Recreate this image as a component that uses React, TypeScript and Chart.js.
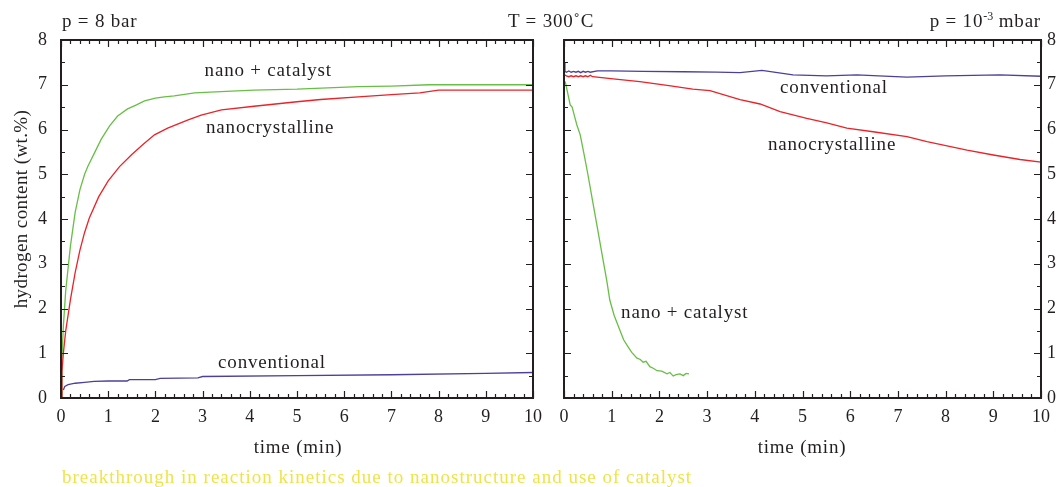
import React, { useEffect, useRef } from "react";
import { Chart, registerables } from "chart.js";

Chart.register(...registerables);

const FONT = "'Liberation Serif', 'Times New Roman', serif";
const INK = "#231f20";
const GREEN = "#68bf45";
const RED = "#ec2227";
const BLUE = "#4b409c";
const YELLOW = "#efe34a";

// ---- axis ticks ----
const xTickValues = [0, 1, 2, 3, 4, 5, 6, 7, 8, 9, 10];
const yTickValues = [0, 1, 2, 3, 4, 5, 6, 7, 8];

// ---- left panel (absorption, p = 8 bar) ----
const absNanoCatT = [0, 0.02, 0.05, 0.1, 0.15, 0.2, 0.3, 0.4, 0.5, 0.57, 0.72, 0.85, 1.03, 1.2, 1.41, 1.6, 1.77, 2.0, 2.19, 2.4, 2.83, 3.5, 4.09, 5.0, 6.3, 7.0, 7.8, 8.5, 10];
const absNanoCatH = [0, 0.9, 1.6, 2.4, 2.9, 3.4, 4.15, 4.65, 5.0, 5.18, 5.5, 5.78, 6.08, 6.3, 6.46, 6.55, 6.64, 6.7, 6.73, 6.75, 6.82, 6.85, 6.88, 6.9, 6.96, 6.97, 7.0, 7.0, 7.0];

const absNanoT = [0, 0.02, 0.05, 0.1, 0.2, 0.3, 0.4, 0.5, 0.6, 0.8, 1.0, 1.24, 1.5, 1.73, 1.98, 2.26, 2.68, 2.97, 3.4, 4.09, 5.0, 5.5, 6.3, 7.0, 7.6, 8.0, 10];
const absNanoH = [0, 0.6, 1.0, 1.5, 2.2, 2.8, 3.3, 3.7, 4.02, 4.5, 4.85, 5.17, 5.44, 5.66, 5.88, 6.03, 6.21, 6.32, 6.44, 6.52, 6.62, 6.67, 6.73, 6.78, 6.82, 6.88, 6.88];

const absConvT = [0.05, 0.08, 0.15, 0.3, 0.5, 0.7, 1.0, 1.4, 1.45, 2.0, 2.1, 2.9, 3.0, 5.0, 7.0, 9.0, 10];
const absConvH = [0.18, 0.26, 0.3, 0.33, 0.35, 0.37, 0.38, 0.38, 0.41, 0.41, 0.44, 0.45, 0.48, 0.5, 0.52, 0.55, 0.57];

const leftLabelText = ["nano + catalyst", "nanocrystalline", "conventional"];
const leftLabelX = [4.39, 4.43, 4.47];
const leftLabelY = [7.31, 6.03, 0.78];

// ---- right panel (desorption, p = 10^-3 mbar) ----
const desConvT = [0, 0.02, 0.05, 0.1, 0.15, 0.2, 0.25, 0.3, 0.35, 0.4, 0.45, 0.5, 0.55, 0.7, 1.0, 1.66, 2.5, 3.2, 3.69, 4.15, 4.8, 5.5, 6.14, 6.6, 7.19, 8.0, 9.14, 10];
const desConvH = [7.5, 7.3, 7.28, 7.31, 7.28, 7.3, 7.28, 7.3, 7.27, 7.3, 7.28, 7.3, 7.28, 7.31, 7.31, 7.3, 7.29, 7.28, 7.27, 7.32, 7.22, 7.2, 7.22, 7.2, 7.17, 7.2, 7.22, 7.19];

const desNanoT = [0, 0.05, 0.1, 0.15, 0.2, 0.25, 0.3, 0.35, 0.4, 0.45, 0.5, 0.55, 0.6, 1.03, 1.59, 2.2, 2.7, 3.06, 3.69, 4.11, 4.53, 5.09, 5.51, 5.93, 6.48, 7.19, 7.61, 8.45, 9.0, 9.56, 10];
const desNanoH = [7.23, 7.2, 7.18, 7.2, 7.18, 7.2, 7.18, 7.2, 7.18, 7.2, 7.18, 7.21, 7.18, 7.13, 7.07, 6.98, 6.9, 6.87, 6.67, 6.57, 6.4, 6.25, 6.15, 6.03, 5.95, 5.84, 5.73, 5.54, 5.43, 5.33, 5.27];

const desNanoCatT = [0, 0.03, 0.08, 0.13, 0.17, 0.22, 0.27, 0.34, 0.42, 0.5, 0.6, 0.7, 0.8, 0.9, 0.96, 1.05, 1.17, 1.25, 1.34, 1.42, 1.53, 1.6, 1.66, 1.72, 1.8, 1.88, 1.95, 2.05, 2.16, 2.22, 2.29, 2.35, 2.43, 2.5, 2.56, 2.62];
const desNanoCatH = [7.1, 7.05, 6.8, 6.55, 6.5, 6.3, 6.1, 5.88, 5.45, 5.0, 4.4, 3.8, 3.2, 2.6, 2.19, 1.85, 1.52, 1.3, 1.15, 1.02, 0.89, 0.86, 0.8, 0.82, 0.7, 0.66, 0.61, 0.6, 0.54, 0.57, 0.49, 0.52, 0.54, 0.5, 0.55, 0.54];

const rightLabelText = ["conventional", "nanocrystalline", "nano + catalyst"];
const rightLabelX = [5.66, 5.62, 2.53];
const rightLabelY = [6.93, 5.65, 1.9];

function pts(t: number[], h: number[]) {
  return t.map((v, i) => ({ x: v, y: h[i] }));
}

function ds(t: number[], h: number[], color: string) {
  return {
    data: pts(t, h),
    borderColor: color,
    backgroundColor: color,
    borderWidth: 1.3,
    pointRadius: 0,
    showLine: true,
    fill: false,
    tension: 0,
  };
}

function framePlugin(texts: string[], xs: number[], ys: number[]) {
  return {
    id: "frameTicks",
    afterDatasetsDraw(chart: any) {
      const { ctx, chartArea: a, scales } = chart;
      const x = scales.x;
      const y = scales.y;
      ctx.save();
      ctx.strokeStyle = INK;
      ctx.lineWidth = 1.2;
      ctx.beginPath();
      for (let i = 0; i <= 50; i++) {
        const px = Math.round(x.getPixelForValue(i * 0.2)) + 0.5;
        const len = i % 5 === 0 ? 7 : 4;
        ctx.moveTo(px, a.bottom);
        ctx.lineTo(px, a.bottom - len);
        ctx.moveTo(px, a.top);
        ctx.lineTo(px, a.top + len);
      }
      for (let i = 0; i <= 16; i++) {
        const py = Math.round(y.getPixelForValue(i * 0.5)) + 0.5;
        const len = i % 2 === 0 ? 7 : 4;
        ctx.moveTo(a.left, py);
        ctx.lineTo(a.left + len, py);
        ctx.moveTo(a.right, py);
        ctx.lineTo(a.right - len, py);
      }
      ctx.stroke();
      ctx.lineWidth = 2;
      ctx.strokeRect(a.left, a.top, a.right - a.left, a.bottom - a.top);
      ctx.fillStyle = INK;
      ctx.font = `19px ${FONT}`;
      (ctx as any).letterSpacing = "0.8px";
      ctx.textAlign = "center";
      ctx.textBaseline = "middle";
      texts.forEach((s, i) => {
        ctx.fillText(s, x.getPixelForValue(xs[i]), y.getPixelForValue(ys[i]));
      });
      (ctx as any).letterSpacing = "0px";
      ctx.restore();
    },
  };
}

function makeConfig(side: "left" | "right", datasets: any[], plugin: any, canvasH: number, canvasW: number): any {
  const isLeft = side === "left";
  return {
    type: "scatter",
    data: { datasets },
    plugins: [plugin],
    options: {
      animation: false,
      responsive: false,
      maintainAspectRatio: false,
      layout: {
        padding: isLeft ? { top: 40, right: canvasW - 535, left: 0, bottom: 0 } : { top: 40, right: 0, left: 14, bottom: 0 },
      },
      plugins: { legend: { display: false }, tooltip: { enabled: false }, title: { display: false } },
      scales: {
        x: {
          type: "linear",
          position: "bottom",
          min: 0,
          max: 10,
          afterBuildTicks: (s: any) => {
            s.ticks = xTickValues.map((v) => ({ value: v }));
          },
          afterFit: (s: any) => {
            s.height = canvasH - 398;
          },
          grid: { display: false, drawTicks: false },
          border: { display: false },
          ticks: { color: INK, font: { family: FONT, size: 18 }, padding: 8, maxRotation: 0, autoSkip: false },
          title: { display: false },
        },
        y: {
          type: "linear",
          position: isLeft ? "left" : "right",
          min: 0,
          max: 8,
          afterBuildTicks: (s: any) => {
            s.ticks = yTickValues.map((v) => ({ value: v }));
          },
          afterFit: (s: any) => {
            s.width = isLeft ? 61 : canvasW - (1041 - 550);
          },
          grid: { display: false, drawTicks: false },
          border: { display: false },
          ticks: { color: INK, font: { family: FONT, size: 18 }, padding: isLeft ? 14 : 6, autoSkip: false },
          title: { display: false },
        },
      },
    },
  };
}

export default function App() {
  const leftRef = useRef<HTMLCanvasElement>(null);
  const rightRef = useRef<HTMLCanvasElement>(null);

  useEffect(() => {
    const H = 470;
    const c1 = new Chart(
      leftRef.current!,
      makeConfig(
        "left",
        [ds(absConvT, absConvH, BLUE), ds(absNanoT, absNanoH, RED), ds(absNanoCatT, absNanoCatH, GREEN)],
        framePlugin(leftLabelText, leftLabelX, leftLabelY),
        H,
        550
      )
    );
    const c2 = new Chart(
      rightRef.current!,
      makeConfig(
        "right",
        [ds(desNanoCatT, desNanoCatH, GREEN), ds(desNanoT, desNanoH, RED), ds(desConvT, desConvH, BLUE)],
        framePlugin(rightLabelText, rightLabelX, rightLabelY),
        H,
        510
      )
    );
    return () => {
      c1.destroy();
      c2.destroy();
    };
  }, []);

  const txt: React.CSSProperties = {
    position: "absolute",
    fontSize: 19,
    lineHeight: "18px",
    letterSpacing: "0.8px",
    color: INK,
    whiteSpace: "nowrap",
  };

  return (
    <div
      style={{
        position: "fixed",
        left: 0,
        top: 0,
        width: 1060,
        height: 487,
        overflow: "hidden",
        background: "#fff",
        fontFamily: FONT,
      }}
    >
      <canvas ref={leftRef} width={550} height={470} style={{ position: "absolute", left: 0, top: 0 }} />
      <canvas ref={rightRef} width={510} height={470} style={{ position: "absolute", left: 550, top: 0 }} />
      <div style={{ ...txt, left: 62, top: 12 }}>p = 8 bar</div>
      <div style={{ ...txt, left: 508, top: 12 }}>T = 300˚C</div>
      <div style={{ ...txt, right: 19, top: 12 }}>
        p = 10<sup style={{ fontSize: 12, verticalAlign: "7px", lineHeight: 0, letterSpacing: "0px" }}>-3</sup> mbar
      </div>
      <div style={{ ...txt, left: 198, width: 200, top: 438, textAlign: "center" }}>time (min)</div>
      <div style={{ ...txt, left: 702, width: 200, top: 438, textAlign: "center" }}>time (min)</div>
      <div
        style={{
          ...txt,
          left: 21 - 130,
          top: 209 - 9,
          width: 260,
          textAlign: "center",
          letterSpacing: "0.4px",
          transform: "rotate(-90deg)",
          transformOrigin: "50% 50%",
        }}
      >
        hydrogen content (wt.%)
      </div>
      <div style={{ ...txt, left: 62, top: 468, color: YELLOW, letterSpacing: "1px" }}>
        breakthrough in reaction kinetics due to nanostructure and use of catalyst
      </div>
    </div>
  );
}
